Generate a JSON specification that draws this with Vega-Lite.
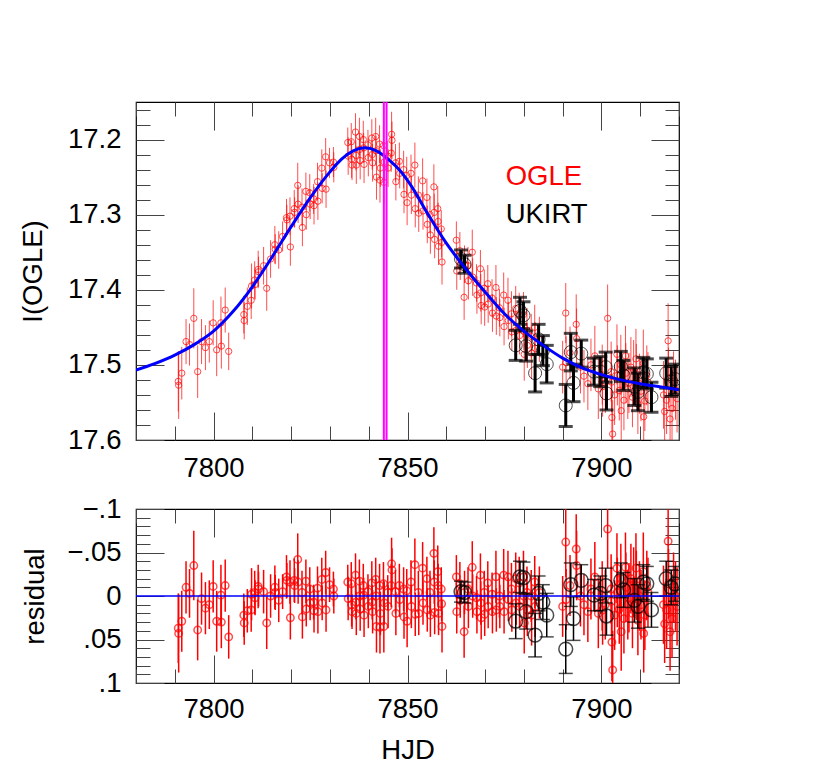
{
"$schema":"https://vega.github.io/schema/vega-lite/v6.json",
"padding":{"left":18,"top":94,"right":10,"bottom":10},
"spacing":-3,
"config":{"view":{"stroke":"black","strokeWidth":1.2},"font":"Liberation Sans",
"axis":{"labelFont":"Liberation Sans","labelFontSize":27.5,"titleFont":"Liberation Sans","titleFontSize":27.5,"titleFontWeight":"normal","labelColor":"black","titleColor":"black","tickColor":"#444","tickWidth":1,"domain":false,"grid":false,"labelFlush":false,"labelOverlap":false}},
"datasets":{
"ogle":[
{"t":7790.9,"mag":17.522,"err":0.04,"res":0.037},{"t":7791.0,"mag":17.527,"err":0.045,"res":0.043},{"t":7791.8,"mag":17.511,"err":0.035,"res":0.029},{"t":7792.9,"mag":17.469,"err":0.03,"res":-0.01},{"t":7793.8,"mag":17.473,"err":0.028,"res":-0.003},{"t":7794.9,"mag":17.438,"err":0.04,"res":-0.035},{"t":7795.9,"mag":17.509,"err":0.035,"res":0.039},{"t":7796.9,"mag":17.469,"err":0.03,"res":0.003},{"t":7797.9,"mag":17.477,"err":0.03,"res":0.014},{"t":7798.9,"mag":17.469,"err":0.028,"res":0.01},{"t":7799.9,"mag":17.444,"err":0.03,"res":-0.011},{"t":7800.8,"mag":17.48,"err":0.035,"res":0.029},{"t":7801.9,"mag":17.444,"err":0.035,"res":-0.001},{"t":7802.0,"mag":17.475,"err":0.03,"res":0.03},{"t":7803.0,"mag":17.427,"err":0.03,"res":-0.012},{"t":7803.9,"mag":17.482,"err":0.025,"res":0.047},
{"t":7807.8,"mag":17.433,"err":0.025,"res":0.022},{"t":7807.9,"mag":17.441,"err":0.025,"res":0.031},{"t":7808.7,"mag":17.422,"err":0.025,"res":0.017},{"t":7809.7,"mag":17.414,"err":0.025,"res":0.016},{"t":7809.8,"mag":17.395,"err":0.03,"res":-0.002},{"t":7810.6,"mag":17.387,"err":0.025,"res":-0.004},{"t":7810.7,"mag":17.393,"err":0.02,"res":0.002},{"t":7811.5,"mag":17.373,"err":0.025,"res":-0.011},{"t":7811.6,"mag":17.376,"err":0.02,"res":-0.008},{"t":7812.9,"mag":17.368,"err":0.025,"res":-0.005},{"t":7813.7,"mag":17.398,"err":0.03,"res":0.031},{"t":7814.7,"mag":17.359,"err":0.025,"res":0.0},{"t":7815.8,"mag":17.34,"err":0.025,"res":-0.01},{"t":7815.9,"mag":17.346,"err":0.02,"res":-0.004},{"t":7816.8,"mag":17.347,"err":0.025,"res":0.005},{"t":7817.8,"mag":17.329,"err":0.02,"res":-0.005},{"t":7818.8,"mag":17.304,"err":0.025,"res":-0.022},{"t":7818.9,"mag":17.307,"err":0.02,"res":-0.018},{"t":7819.7,"mag":17.302,"err":0.025,"res":-0.016},{"t":7819.8,"mag":17.343,"err":0.025,"res":0.025},{"t":7820.8,"mag":17.292,"err":0.025,"res":-0.018},{"t":7820.9,"mag":17.297,"err":0.02,"res":-0.012},{"t":7821.7,"mag":17.261,"err":0.03,"res":-0.042},{"t":7821.8,"mag":17.286,"err":0.025,"res":-0.016},{"t":7822.8,"mag":17.29,"err":0.025,"res":-0.004},{"t":7822.9,"mag":17.317,"err":0.025,"res":0.024},{"t":7823.8,"mag":17.269,"err":0.025,"res":-0.017},{"t":7823.9,"mag":17.3,"err":0.02,"res":0.015},{"t":7824.8,"mag":17.271,"err":0.025,"res":-0.008},{"t":7824.9,"mag":17.286,"err":0.02,"res":0.008},{"t":7825.8,"mag":17.279,"err":0.02,"res":0.007},{"t":7825.9,"mag":17.288,"err":0.025,"res":0.017},{"t":7826.8,"mag":17.256,"err":0.025,"res":-0.009},{"t":7826.9,"mag":17.282,"err":0.025,"res":0.018},{"t":7827.9,"mag":17.238,"err":0.025,"res":-0.019},{"t":7828.0,"mag":17.265,"err":0.02,"res":0.008},{"t":7828.9,"mag":17.223,"err":0.025,"res":-0.027},{"t":7829.0,"mag":17.266,"err":0.025,"res":0.016},{"t":7829.9,"mag":17.231,"err":0.02,"res":-0.013},{"t":7830.9,"mag":17.23,"err":0.02,"res":-0.008},{"t":7831.0,"mag":17.237,"err":0.02,"res":0.0},
{"t":7834.6,"mag":17.204,"err":0.02,"res":-0.016},{"t":7834.7,"mag":17.222,"err":0.025,"res":0.003},{"t":7835.5,"mag":17.203,"err":0.025,"res":-0.014},{"t":7835.6,"mag":17.226,"err":0.025,"res":0.01},{"t":7835.7,"mag":17.234,"err":0.02,"res":0.018},{"t":7836.6,"mag":17.19,"err":0.025,"res":-0.024},{"t":7836.7,"mag":17.221,"err":0.02,"res":0.007},{"t":7836.8,"mag":17.234,"err":0.025,"res":0.02},{"t":7837.6,"mag":17.196,"err":0.025,"res":-0.017},{"t":7837.7,"mag":17.213,"err":0.02,"res":0.0},{"t":7837.8,"mag":17.228,"err":0.025,"res":0.015},{"t":7838.6,"mag":17.2,"err":0.025,"res":-0.012},{"t":7838.7,"mag":17.211,"err":0.02,"res":-0.001},{"t":7838.8,"mag":17.233,"err":0.025,"res":0.022},{"t":7839.8,"mag":17.207,"err":0.02,"res":-0.005},{"t":7839.9,"mag":17.224,"err":0.025,"res":0.012},{"t":7840.8,"mag":17.198,"err":0.025,"res":-0.015},{"t":7840.9,"mag":17.22,"err":0.02,"res":0.007},{"t":7841.0,"mag":17.231,"err":0.025,"res":0.018},{"t":7841.8,"mag":17.196,"err":0.025,"res":-0.019},{"t":7841.9,"mag":17.215,"err":0.02,"res":0.0},{"t":7842.0,"mag":17.25,"err":0.03,"res":0.035},{"t":7842.8,"mag":17.206,"err":0.025,"res":-0.012},{"t":7842.9,"mag":17.254,"err":0.03,"res":0.036},{"t":7843.0,"mag":17.238,"err":0.025,"res":0.02},{"t":7843.8,"mag":17.208,"err":0.025,"res":-0.014},{"t":7843.9,"mag":17.257,"err":0.03,"res":0.035},{"t":7844.0,"mag":17.23,"err":0.025,"res":0.008},{"t":7844.9,"mag":17.222,"err":0.02,"res":-0.004},{"t":7845.0,"mag":17.238,"err":0.025,"res":0.012},{"t":7845.8,"mag":17.218,"err":0.025,"res":-0.012},{"t":7845.9,"mag":17.193,"err":0.03,"res":-0.037},{"t":7846.0,"mag":17.201,"err":0.025,"res":-0.03},{"t":7846.9,"mag":17.231,"err":0.025,"res":-0.005},{"t":7847.0,"mag":17.256,"err":0.025,"res":0.02},{"t":7847.9,"mag":17.229,"err":0.025,"res":-0.012},{"t":7848.0,"mag":17.245,"err":0.02,"res":0.004},{"t":7849.0,"mag":17.24,"err":0.025,"res":-0.008},{"t":7849.1,"mag":17.273,"err":0.025,"res":0.024},{"t":7849.8,"mag":17.248,"err":0.025,"res":-0.006},{"t":7849.9,"mag":17.284,"err":0.03,"res":0.029},{"t":7850.9,"mag":17.245,"err":0.025,"res":-0.016},{"t":7851.0,"mag":17.274,"err":0.025,"res":0.012},{"t":7851.9,"mag":17.234,"err":0.03,"res":-0.036},{"t":7852.0,"mag":17.292,"err":0.025,"res":0.021},{"t":7852.8,"mag":17.274,"err":0.025,"res":-0.004},{"t":7852.9,"mag":17.298,"err":0.025,"res":0.02},{"t":7853.9,"mag":17.255,"err":0.03,"res":-0.032},{"t":7854.0,"mag":17.295,"err":0.025,"res":0.008},{"t":7855.0,"mag":17.277,"err":0.025,"res":-0.02},{"t":7855.1,"mag":17.313,"err":0.025,"res":0.016},{"t":7855.8,"mag":17.3,"err":0.025,"res":-0.004},{"t":7855.9,"mag":17.327,"err":0.025,"res":0.022},{"t":7856.8,"mag":17.263,"err":0.03,"res":-0.049},{"t":7856.9,"mag":17.297,"err":0.025,"res":-0.016},{"t":7857.0,"mag":17.333,"err":0.025,"res":0.019},{"t":7857.8,"mag":17.292,"err":0.03,"res":-0.028},{"t":7857.9,"mag":17.309,"err":0.025,"res":-0.012},{"t":7858.0,"mag":17.342,"err":0.025,"res":0.02},{"t":7858.7,"mag":17.319,"err":0.025,"res":-0.008},{"t":7858.8,"mag":17.337,"err":0.02,"res":0.009},{"t":7858.9,"mag":17.363,"err":0.03,"res":0.035},
{"t":7862.6,"mag":17.334,"err":0.025,"res":-0.022},{"t":7862.7,"mag":17.375,"err":0.025,"res":0.018},{"t":7863.5,"mag":17.348,"err":0.025,"res":-0.014},{"t":7863.6,"mag":17.367,"err":0.02,"res":0.005},{"t":7864.6,"mag":17.41,"err":0.03,"res":0.041},{"t":7864.7,"mag":17.366,"err":0.025,"res":-0.004},{"t":7865.6,"mag":17.368,"err":0.025,"res":-0.008},{"t":7865.7,"mag":17.388,"err":0.025,"res":0.012},{"t":7866.7,"mag":17.35,"err":0.03,"res":-0.033},{"t":7866.8,"mag":17.383,"err":0.025,"res":0.0},{"t":7867.8,"mag":17.391,"err":0.025,"res":0.002},{"t":7867.9,"mag":17.407,"err":0.025,"res":0.018},{"t":7868.8,"mag":17.372,"err":0.025,"res":-0.024},{"t":7868.9,"mag":17.404,"err":0.025,"res":0.008},{"t":7869.0,"mag":17.421,"err":0.025,"res":0.025},{"t":7869.8,"mag":17.398,"err":0.025,"res":-0.004},{"t":7869.9,"mag":17.423,"err":0.025,"res":0.021},{"t":7870.7,"mag":17.392,"err":0.025,"res":-0.015},{"t":7870.8,"mag":17.419,"err":0.025,"res":0.012},{"t":7871.8,"mag":17.411,"err":0.025,"res":-0.002},{"t":7871.9,"mag":17.431,"err":0.025,"res":0.018},{"t":7872.8,"mag":17.397,"err":0.03,"res":-0.022},{"t":7872.9,"mag":17.435,"err":0.025,"res":0.016},{"t":7873.7,"mag":17.424,"err":0.025,"res":0.0},{"t":7873.8,"mag":17.437,"err":0.025,"res":0.012},{"t":7874.8,"mag":17.407,"err":0.03,"res":-0.024},{"t":7874.9,"mag":17.449,"err":0.025,"res":0.018},{"t":7875.9,"mag":17.414,"err":0.03,"res":-0.022},{"t":7876.0,"mag":17.441,"err":0.025,"res":0.004},{"t":7876.8,"mag":17.432,"err":0.03,"res":-0.008},{"t":7876.9,"mag":17.456,"err":0.025,"res":0.016},{"t":7877.9,"mag":17.425,"err":0.03,"res":-0.02},{"t":7878.0,"mag":17.454,"err":0.025,"res":0.008},{"t":7878.8,"mag":17.434,"err":0.03,"res":-0.015},{"t":7878.9,"mag":17.461,"err":0.025,"res":0.012},{"t":7879.9,"mag":17.433,"err":0.03,"res":-0.022},{"t":7880.0,"mag":17.455,"err":0.025,"res":0.0},{"t":7880.1,"mag":17.486,"err":0.035,"res":0.031},{"t":7880.8,"mag":17.454,"err":0.03,"res":-0.004},{"t":7880.9,"mag":17.474,"err":0.03,"res":0.016},{"t":7881.9,"mag":17.462,"err":0.03,"res":0.0},{"t":7882.0,"mag":17.484,"err":0.035,"res":0.022},{"t":7882.8,"mag":17.45,"err":0.03,"res":-0.016},{"t":7882.9,"mag":17.478,"err":0.035,"res":0.012},{"t":7884.0,"mag":17.466,"err":0.03,"res":-0.004},
{"t":7890.0,"mag":17.503,"err":0.035,"res":0.012},{"t":7890.8,"mag":17.431,"err":0.04,"res":-0.062},{"t":7890.9,"mag":17.497,"err":0.035,"res":0.004},{"t":7891.9,"mag":17.484,"err":0.035,"res":-0.012},{"t":7893.5,"mag":17.446,"err":0.04,"res":-0.054},{"t":7893.6,"mag":17.465,"err":0.04,"res":-0.035},{"t":7894.6,"mag":17.503,"err":0.035,"res":0.0},{"t":7895.5,"mag":17.515,"err":0.035,"res":0.01},{"t":7896.5,"mag":17.525,"err":0.035,"res":0.018},{"t":7897.3,"mag":17.5,"err":0.035,"res":-0.008},{"t":7898.3,"mag":17.488,"err":0.04,"res":-0.022},{"t":7899.2,"mag":17.532,"err":0.04,"res":0.02},{"t":7900.2,"mag":17.513,"err":0.04,"res":0.0},{"t":7900.3,"mag":17.529,"err":0.04,"res":0.016},{"t":7901.0,"mag":17.524,"err":0.04,"res":0.01},{"t":7901.6,"mag":17.438,"err":0.045,"res":-0.077},{"t":7902.5,"mag":17.509,"err":0.04,"res":-0.008},{"t":7902.6,"mag":17.523,"err":0.04,"res":0.006},{"t":7902.7,"mag":17.57,"err":0.045,"res":0.053},{"t":7902.9,"mag":17.592,"err":0.045,"res":0.085},{"t":7903.4,"mag":17.54,"err":0.04,"res":0.022},{"t":7904.0,"mag":17.486,"err":0.04,"res":-0.032},{"t":7904.1,"mag":17.514,"err":0.04,"res":-0.004},{"t":7904.6,"mag":17.534,"err":0.04,"res":0.015},{"t":7905.0,"mag":17.5,"err":0.04,"res":-0.02},{"t":7905.1,"mag":17.561,"err":0.045,"res":0.041},{"t":7905.8,"mag":17.547,"err":0.04,"res":0.026},{"t":7906.2,"mag":17.488,"err":0.04,"res":-0.033},{"t":7906.3,"mag":17.511,"err":0.04,"res":-0.01},{"t":7906.8,"mag":17.532,"err":0.04,"res":0.01},{"t":7907.1,"mag":17.524,"err":0.04,"res":0.002},{"t":7907.6,"mag":17.503,"err":0.04,"res":-0.02},{"t":7908.0,"mag":17.543,"err":0.04,"res":0.02},{"t":7908.3,"mag":17.507,"err":0.04,"res":-0.016},{"t":7908.9,"mag":17.492,"err":0.04,"res":-0.032},{"t":7909.0,"mag":17.512,"err":0.04,"res":-0.012},{"t":7909.4,"mag":17.552,"err":0.04,"res":0.028},{"t":7909.8,"mag":17.525,"err":0.04,"res":0.0},{"t":7910.2,"mag":17.535,"err":0.04,"res":0.01},{"t":7910.8,"mag":17.498,"err":0.045,"res":-0.028},{"t":7910.9,"mag":17.569,"err":0.045,"res":0.043},{"t":7911.2,"mag":17.548,"err":0.04,"res":0.022},{"t":7911.7,"mag":17.514,"err":0.04,"res":-0.012},{"t":7912.0,"mag":17.523,"err":0.04,"res":-0.004},{"t":7916.0,"mag":17.54,"err":0.045,"res":0.01},{"t":7916.3,"mag":17.562,"err":0.045,"res":0.032},{"t":7916.8,"mag":17.547,"err":0.045,"res":0.016},{"t":7917.2,"mag":17.468,"err":0.05,"res":-0.063},{"t":7917.3,"mag":17.517,"err":0.04,"res":-0.014},{"t":7917.7,"mag":17.572,"err":0.045,"res":0.041},{"t":7918.2,"mag":17.558,"err":0.045,"res":0.026},{"t":7918.6,"mag":17.522,"err":0.04,"res":-0.01},{"t":7919.1,"mag":17.533,"err":0.04,"res":0.0},{"t":7919.5,"mag":17.545,"err":0.045,"res":0.012}
],
"ukirt":[
{"t":7863.8,"mag":17.359,"err":0.012,"res":-0.005},{"t":7864.7,"mag":17.366,"err":0.012,"res":-0.004},{"t":7877.9,"mag":17.474,"err":0.02,"res":0.029},{"t":7879.0,"mag":17.428,"err":0.018,"res":-0.022},{"t":7879.9,"mag":17.434,"err":0.018,"res":-0.021},{"t":7880.6,"mag":17.475,"err":0.02,"res":0.018},{"t":7882.9,"mag":17.511,"err":0.025,"res":0.045},{"t":7883.8,"mag":17.466,"err":0.02,"res":-0.003},{"t":7884.9,"mag":17.481,"err":0.02,"res":0.007},{"t":7885.9,"mag":17.499,"err":0.025,"res":0.022},{"t":7890.8,"mag":17.554,"err":0.028,"res":0.061},{"t":7892.1,"mag":17.483,"err":0.025,"res":-0.013},{"t":7892.8,"mag":17.524,"err":0.025,"res":0.026},{"t":7894.8,"mag":17.485,"err":0.018,"res":-0.018},{"t":7898.1,"mag":17.509,"err":0.018,"res":-0.001},{"t":7899.7,"mag":17.509,"err":0.02,"res":-0.003},{"t":7901.1,"mag":17.503,"err":0.02,"res":-0.012},{"t":7901.3,"mag":17.538,"err":0.022,"res":0.023},{"t":7905.0,"mag":17.502,"err":0.02,"res":-0.018},{"t":7905.7,"mag":17.514,"err":0.02,"res":-0.007},{"t":7908.5,"mag":17.529,"err":0.025,"res":0.005},{"t":7909.4,"mag":17.536,"err":0.025,"res":0.012},{"t":7910.8,"mag":17.51,"err":0.02,"res":-0.016},{"t":7911.7,"mag":17.512,"err":0.02,"res":-0.014},{"t":7912.9,"mag":17.543,"err":0.02,"res":0.016},{"t":7916.7,"mag":17.511,"err":0.02,"res":-0.02},{"t":7918.0,"mag":17.522,"err":0.02,"res":-0.01},{"t":7919.0,"mag":17.519,"err":0.02,"res":-0.014}
],
"model":[
{"t":7780,"mag":17.507},{"t":7785,"mag":17.498},{"t":7790,"mag":17.487},{"t":7795,"mag":17.473},{"t":7800,"mag":17.455},{"t":7805,"mag":17.429},{"t":7810,"mag":17.396},{"t":7815,"mag":17.357},{"t":7820,"mag":17.316},{"t":7825,"mag":17.277},{"t":7830,"mag":17.243},{"t":7833,"mag":17.226},{"t":7836,"mag":17.215},{"t":7839,"mag":17.211},{"t":7842,"mag":17.215},{"t":7845,"mag":17.226},{"t":7848,"mag":17.241},{"t":7851,"mag":17.262},{"t":7855,"mag":17.297},{"t":7860,"mag":17.338},{"t":7865,"mag":17.372},{"t":7870,"mag":17.403},{"t":7875,"mag":17.432},{"t":7880,"mag":17.455},{"t":7885,"mag":17.474},{"t":7890,"mag":17.491},{"t":7895,"mag":17.504},{"t":7900,"mag":17.513},{"t":7905,"mag":17.52},{"t":7910,"mag":17.525},{"t":7915,"mag":17.529},{"t":7920,"mag":17.533}
],
"tmark":[{"t":7843.9},{"t":7844.6}]
},
"vconcat":[
{"width":543,"height":338,
"resolve":{"axis":{"x":"independent","y":"independent"}},
"layer":[
{"data":{"name":"ogle"},"mark":{"type":"errorbar","color":"#ff0000","thickness":1,"opacity":0.7,"clip":true},
"encoding":{"x":{"field":"t","type":"quantitative","axis":null,"scale":{"domain":[7780,7920],"nice":false,"zero":false}},"y":{"field":"mag","type":"quantitative","axis":null,"scale":{"domain":[17.15,17.6],"reverse":true,"nice":false,"zero":false}},"yError":{"field":"err"}}},
{"data":{"name":"ogle"},"mark":{"type":"point","shape":"circle","filled":false,"color":"#ff0000","size":40,"strokeWidth":1,"clip":true},
"encoding":{"x":{"field":"t","type":"quantitative","scale":{"domain":[7780,7920],"nice":false,"zero":false},
"axis":{"orient":"bottom","values":[7780,7790,7800,7810,7820,7830,7840,7850,7860,7870,7880,7890,7900,7910,7920],"format":"d","labelExpr":"datum.value % 50 === 0 ? datum.label : ''","tickSize":{"condition":{"test":"datum.value % 50 === 0","value":-28},"value":-14},"labelPadding":42,"title":null}},
"y":{"field":"mag","type":"quantitative","scale":{"domain":[17.15,17.6],"reverse":true,"nice":false,"zero":false},
"axis":{"orient":"left","values":[17.16,17.18,17.2,17.22,17.24,17.26,17.28,17.3,17.32,17.34,17.36,17.38,17.4,17.42,17.44,17.46,17.48,17.5,17.52,17.54,17.56,17.58,17.6],"labelExpr":"abs(datum.value*10 - round(datum.value*10)) < 0.001 ? format(datum.value, '.1f') : ''","tickSize":{"condition":{"test":"abs(datum.value*10 - round(datum.value*10)) < 0.001","value":-28},"value":-14},"labelPadding":43,"title":"I(OGLE)","titleX":-103,"titleBaseline":"middle"}}}},
{"data":{"name":"ukirt"},"mark":{"type":"errorbar","color":"black","thickness":3,"ticks":true,"size":14,"clip":true},
"encoding":{"x":{"field":"t","type":"quantitative","axis":null},"y":{"field":"mag","type":"quantitative","axis":null},"yError":{"field":"err"}}},
{"data":{"name":"ukirt"},"mark":{"type":"point","shape":"circle","filled":false,"color":"black","size":170,"strokeWidth":1,"clip":true},
"encoding":{"x":{"field":"t","type":"quantitative","axis":null},"y":{"field":"mag","type":"quantitative","axis":null}}},
{"data":{"name":"model"},"mark":{"type":"line","color":"#0000ff","strokeWidth":3,"interpolate":"monotone","clip":true},
"encoding":{"x":{"field":"t","type":"quantitative","axis":{"orient":"top","values":[7780,7790,7800,7810,7820,7830,7840,7850,7860,7870,7880,7890,7900,7910,7920],"labels":false,"tickSize":{"condition":{"test":"datum.value % 50 === 0","value":-28},"value":-14},"title":null}},
"y":{"field":"mag","type":"quantitative","axis":{"orient":"right","values":[17.16,17.18,17.2,17.22,17.24,17.26,17.28,17.3,17.32,17.34,17.36,17.38,17.4,17.42,17.44,17.46,17.48,17.5,17.52,17.54,17.56,17.58,17.6],"labels":false,"tickSize":{"condition":{"test":"abs(datum.value*10 - round(datum.value*10)) < 0.001","value":-28},"value":-14},"title":null}}}},
{"data":{"name":"tmark"},"mark":{"type":"rule","color":"#ff00ff","strokeWidth":2},
"encoding":{"x":{"field":"t","type":"quantitative","axis":null}}},
{"data":{"values":[{"label":"OGLE"}]},"mark":{"type":"text","align":"left","baseline":"middle","fontSize":27.5,"font":"Liberation Sans","color":"#ff0000"},
"encoding":{"x":{"datum":7875.3,"type":"quantitative","axis":null},"y":{"datum":17.25,"type":"quantitative","axis":null},"text":{"field":"label"}}},
{"data":{"values":[{"label":"UKIRT"}]},"mark":{"type":"text","align":"left","baseline":"middle","fontSize":27.5,"font":"Liberation Sans","color":"black"},
"encoding":{"x":{"datum":7875.3,"type":"quantitative","axis":null},"y":{"datum":17.301,"type":"quantitative","axis":null},"text":{"field":"label"}}}
]},
{"width":543,"height":174,
"resolve":{"axis":{"x":"independent","y":"independent"}},
"layer":[
{"data":{"name":"ogle"},"mark":{"type":"errorbar","color":"#ff0000","thickness":1.5,"clip":true},
"encoding":{"x":{"field":"t","type":"quantitative","axis":null,"scale":{"domain":[7780,7920],"nice":false,"zero":false}},"y":{"field":"res","type":"quantitative","axis":null,"scale":{"domain":[-0.1,0.1],"reverse":true,"nice":false,"zero":false}},"yError":{"field":"err"}}},
{"data":{"name":"ogle"},"mark":{"type":"point","shape":"circle","filled":false,"color":"#ff0000","size":55,"strokeWidth":1.5,"clip":true},
"encoding":{"x":{"field":"t","type":"quantitative","scale":{"domain":[7780,7920],"nice":false,"zero":false},
"axis":{"orient":"bottom","values":[7780,7790,7800,7810,7820,7830,7840,7850,7860,7870,7880,7890,7900,7910,7920],"format":"d","labelExpr":"datum.value % 50 === 0 ? datum.label : ''","tickSize":{"condition":{"test":"datum.value % 50 === 0","value":-28},"value":-14},"labelPadding":40,"title":"HJD","titleY":67,"titleBaseline":"middle"}},
"y":{"field":"res","type":"quantitative","scale":{"domain":[-0.1,0.1],"reverse":true,"nice":false,"zero":false},
"axis":{"orient":"left","values":[-0.1,-0.09,-0.08,-0.07,-0.06,-0.05,-0.04,-0.03,-0.02,-0.01,0,0.01,0.02,0.03,0.04,0.05,0.06,0.07,0.08,0.09,0.1],"labelExpr":"abs(datum.value*20 - round(datum.value*20)) < 0.001 ? (abs(datum.value) < 0.001 ? '0' : replace(format(datum.value, '.2~f'), '0.', '.')) : ''","tickSize":{"condition":{"test":"abs(datum.value*20 - round(datum.value*20)) < 0.001","value":-28},"value":-14},"labelPadding":43,"title":"residual","titleX":-101,"titleBaseline":"middle"}}}},
{"data":{"name":"ukirt"},"mark":{"type":"errorbar","color":"black","thickness":1.5,"ticks":true,"size":14,"clip":true},
"encoding":{"x":{"field":"t","type":"quantitative","axis":null},"y":{"field":"res","type":"quantitative","axis":null},"yError":{"field":"err"}}},
{"data":{"name":"ukirt"},"mark":{"type":"point","shape":"circle","filled":false,"color":"black","size":190,"strokeWidth":1.5,"clip":true},
"encoding":{"x":{"field":"t","type":"quantitative","axis":{"orient":"top","values":[7780,7790,7800,7810,7820,7830,7840,7850,7860,7870,7880,7890,7900,7910,7920],"labels":false,"tickSize":{"condition":{"test":"datum.value % 50 === 0","value":-28},"value":-14},"title":null}},
"y":{"field":"res","type":"quantitative","axis":{"orient":"right","values":[-0.1,-0.09,-0.08,-0.07,-0.06,-0.05,-0.04,-0.03,-0.02,-0.01,0,0.01,0.02,0.03,0.04,0.05,0.06,0.07,0.08,0.09,0.1],"labels":false,"tickSize":{"condition":{"test":"abs(datum.value*20 - round(datum.value*20)) < 0.001","value":-28},"value":-14},"title":null}}}},
{"data":{"values":[{"r":0}]},"mark":{"type":"rule","color":"#0000ff","strokeWidth":1.5},
"encoding":{"y":{"field":"r","type":"quantitative","axis":null}}}
]}
]
}
